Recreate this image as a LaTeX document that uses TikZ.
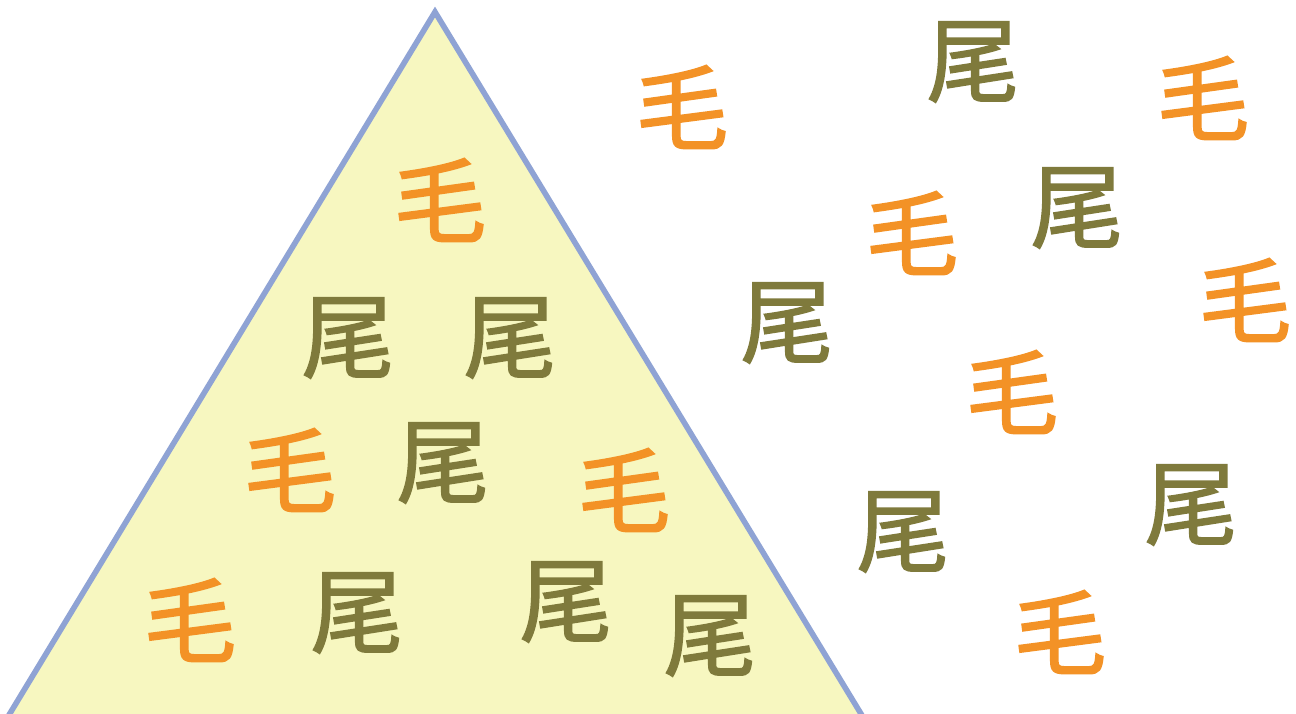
\documentclass[tikz,border=0pt]{standalone}
\usepackage{fontspec}
\newfontfamily\cjk[FakeBold=1.6]{Noto Sans CJK JP}
\definecolor{triblue}{HTML}{8FA3D4}
\definecolor{trifill}{HTML}{F7F7C0}
\definecolor{maoorange}{HTML}{F39226}
\definecolor{weiolive}{HTML}{7F7A3C}
\tikzset{
  mao/.style={text=maoorange, font=\cjk\fontsize{93}{93}\selectfont, inner sep=0pt},
  wei/.style={text=weiolive, font=\cjk\fontsize{93}{93}\selectfont, inner sep=0pt},
}
\begin{document}
\begin{tikzpicture}[x=1pt,y=-1pt]
\useasboundingbox (0,0) rectangle (1296,713);
\clip (0,0) rectangle (1296,713);
\fill[white] (0,0) rectangle (1296,713);
\coordinate (apex) at (435,12);
\coordinate (bl) at (1.7,727);
\coordinate (br) at (869,727);
\filldraw[fill=trifill, draw=triblue, line width=5.6pt, line join=miter] (bl) -- (apex) -- (br);
% inside
\node[mao] (m1) at (440,200) {毛};
\node[wei] (w1) at (348,338) {尾};
\node[wei] (w2) at (510,338) {尾};
\node[mao] (m2) at (290,470) {毛};
\node[wei] (w3) at (443,463) {尾};
\node[mao] (m3) at (624,490) {毛};
\node[mao] (m4) at (190,620) {毛};
\node[wei] (w4) at (357,613) {尾};
\node[wei] (w5) at (566,602) {尾};
\node[wei] (w6) at (710,636) {尾};
% outside
\node[mao] (m5) at (682,107) {毛};
\node[wei] (w7) at (973,62) {尾};
\node[mao] (m6) at (1203,98) {毛};
\node[mao] (m7) at (912,233) {毛};
\node[wei] (w8) at (1077,208) {尾};
\node[wei] (w9) at (787,323) {尾};
\node[mao] (m8) at (1245,300) {毛};
\node[mao] (m9) at (1012,392) {毛};
\node[wei] (w10) at (903,532) {尾};
\node[wei] (w11) at (1191,505) {尾};
\node[mao] (m10) at (1060,632) {毛};
\end{tikzpicture}
\end{document}
